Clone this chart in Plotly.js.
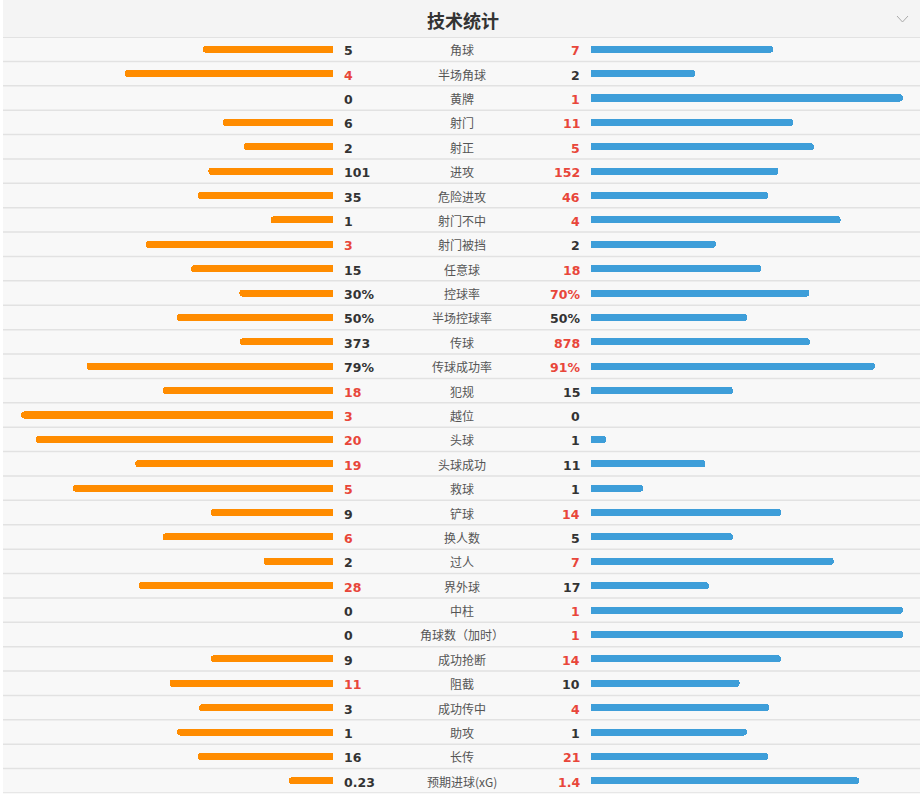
<!DOCTYPE html>
<html>
<head>
<meta charset="utf-8">
<script src="https://cdn.plot.ly/plotly-3.0.1.min.js"></script>
<style>
  html, body { margin: 0; padding: 0; background: #fff; }
  #chart { width: 924px; height: 797px; }
</style>
</head>
<body>
<div id="chart"></div>
<script>
// Match statistics: home (orange, left) vs away (blue, right)
const categories = ['角球', '半场角球', '黄牌', '射门', '射正', '进攻', '危险进攻', '射门不中', '射门被挡', '任意球',
  '控球率', '半场控球率', '传球', '传球成功率', '犯规', '越位', '头球', '头球成功', '救球', '铲球',
  '换人数', '过人', '界外球', '中柱', '角球数（加时）', '成功抢断', '阻截', '成功传中', '助攻', '长传', '预期进球(xG)'];
const homeValues = [5, 4, 0, 6, 2, 101, 35, 1, 3, 15,
  30, 50, 373, 79, 18, 3, 20, 19, 5, 9,
  6, 2, 28, 0, 0, 9, 11, 3, 1, 16, 0.23];
const awayValues = [7, 2, 1, 11, 5, 152, 46, 4, 2, 18,
  70, 50, 878, 91, 15, 0, 1, 11, 1, 14,
  5, 7, 17, 1, 1, 14, 10, 4, 1, 21, 1.4];
const percentStats = ['控球率', '半场控球率', '传球成功率'];

const W = 924, H = 797;
const px = x => x / W;          // pixel -> paper x
const py = y => 1 - y / H;      // pixel -> paper y

const ORANGE = '#ff8c00', BLUE = '#3e9ed9', RED = '#e8463a', DARK = '#333333';

const rows = categories.map((_, i) => i);
const isPct = categories.map(c => percentStats.includes(c));

// bar length: percentages on their own scale, counts as share of the total
const share = (a, b, pct) => pct ? a / 100 : (a + b === 0 ? 0 : a / (a + b));
const homeShare = homeValues.map((v, i) => share(v, awayValues[i], isPct[i]));
const awayShare = awayValues.map((v, i) => share(v, homeValues[i], isPct[i]));

const fmt = (v, pct) => String(v) + (pct ? '%' : '');

const traces = [
  {
    type: 'bar', orientation: 'h', y: rows, x: homeShare, xaxis: 'x', yaxis: 'y',
    width: 0.29, marker: { color: ORANGE, cornerradius: 3.5, line: { width: 0 } },
    hoverinfo: 'skip', showlegend: false
  },
  {
    type: 'bar', orientation: 'h', y: rows, x: awayShare, xaxis: 'x2', yaxis: 'y',
    width: 0.29, marker: { color: BLUE, cornerradius: 3.5, line: { width: 0 } },
    hoverinfo: 'skip', showlegend: false
  }
];

const numFont = c => ({ family: 'DejaVu Sans, Verdana, sans-serif', size: 12.5, color: c, weight: 'bold' });
const cjk = 'Noto Sans CJK SC, Noto Sans, sans-serif';

const annotations = [];
rows.forEach(i => {
  const h = homeValues[i], a = awayValues[i];
  annotations.push({
    xref: 'paper', yref: 'y', x: px(342), y: i, xanchor: 'left', yanchor: 'middle', yshift: -1.5,
    text: fmt(h, isPct[i]), showarrow: false, font: numFont(h > a ? RED : DARK)
  });
  annotations.push({
    xref: 'paper', yref: 'y', x: px(582), y: i, xanchor: 'right', yanchor: 'middle', yshift: -1.5,
    text: fmt(a, isPct[i]), showarrow: false, font: numFont(a > h ? RED : DARK)
  });
  annotations.push({
    xref: 'paper', yref: 'y', x: px(462), y: i, xanchor: 'center', yanchor: 'middle', yshift: -0.5,
    text: categories[i], showarrow: false, font: { family: cjk, size: 12, color: '#555555' }
  });
});
annotations.push({
  xref: 'paper', yref: 'paper', x: px(463), y: py(20), xanchor: 'center', yanchor: 'middle',
  text: '技术统计', showarrow: false, font: { family: cjk, size: 18, color: '#333333', weight: 'bold' }
});

const shapes = [
  // panel background
  { type: 'rect', xref: 'paper', yref: 'paper', x0: px(3), x1: px(920), y0: py(794), y1: py(0),
    fillcolor: '#f8f8f8', line: { width: 0 }, layer: 'below' },
  // header band
  { type: 'rect', xref: 'paper', yref: 'paper', x0: px(3), x1: px(920), y0: py(37), y1: py(0),
    fillcolor: '#f4f4f4', line: { width: 0 }, layer: 'below' },
  // collapse chevron
  { type: 'path', xref: 'paper', yref: 'paper',
    path: `M ${px(897)},${py(16)} L ${px(902.5)},${py(22)} L ${px(908)},${py(16)}`,
    line: { color: '#aaaaaa', width: 1 } }
];
for (let i = 0; i <= categories.length; i++) {
  shapes.push({
    type: 'line', xref: 'paper', yref: 'y', x0: px(3), x1: px(920), y0: i - 0.5, y1: i - 0.5,
    line: { color: '#e2e2e2', width: i === 0 ? 2 : 1.5 }, layer: 'below'
  });
}

const hidden = { visible: false, fixedrange: true, showgrid: false, zeroline: false };
const layout = {
  width: W, height: H,
  margin: { l: 0, r: 0, t: 0, b: 0 },
  paper_bgcolor: '#ffffff', plot_bgcolor: 'rgba(0,0,0,0)',
  bargap: 0,
  xaxis: Object.assign({ domain: [px(21), px(333)], range: [1, 0], anchor: 'y' }, hidden),
  xaxis2: Object.assign({ domain: [px(591), px(903)], range: [0, 1], anchor: 'y' }, hidden),
  yaxis: Object.assign({ domain: [py(793), py(37)], range: [categories.length - 0.5, -0.5] }, hidden),
  annotations, shapes
};

Plotly.newPlot('chart', traces, layout, { staticPlot: true, displayModeBar: false });
</script>
</body>
</html>
